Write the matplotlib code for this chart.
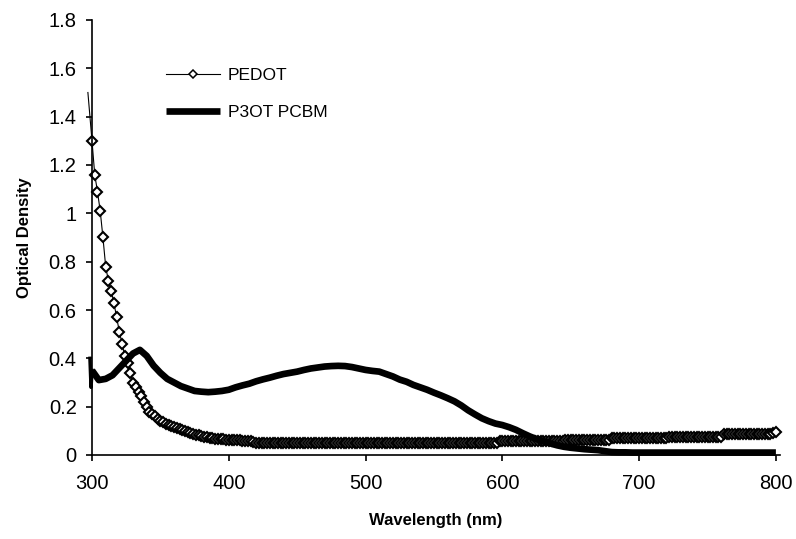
import numpy as np
import matplotlib
matplotlib.use('Agg')
import matplotlib.pyplot as plt

plt.rcParams['font.family'] = ['Liberation Sans', 'DejaVu Sans']

# PEDOT absorbance, sampled every 2 nm from 300 to 800 nm
pedot_nm = np.arange(300, 801, 2)
pedot_od = [
    1.30, 1.16, 1.09, 1.01, 0.90, 0.78, 0.72, 0.68, 0.63, 0.57,
    0.51, 0.46, 0.41, 0.38, 0.34, 0.30, 0.28, 0.26, 0.245, 0.22,
    0.20, 0.18, 0.17, 0.16, 0.15, 0.142, 0.136, 0.13, 0.125, 0.12,
    0.115, 0.11, 0.106, 0.102, 0.098, 0.094, 0.09, 0.087, 0.084, 0.081,
    0.078, 0.076, 0.074, 0.072, 0.07, 0.068, 0.067, 0.066, 0.065, 0.064,
    0.063, 0.062, 0.062, 0.061, 0.061, 0.06, 0.06, 0.06, 0.06, 0.055,
    0.05, 0.05, 0.05, 0.05, 0.05, 0.05, 0.05, 0.05, 0.05, 0.05,
    0.05, 0.05, 0.05, 0.05, 0.05, 0.05, 0.05, 0.05, 0.05, 0.05,
    0.05, 0.05, 0.05, 0.05, 0.05, 0.05, 0.05, 0.05, 0.05, 0.05,
    0.05, 0.05, 0.05, 0.05, 0.05, 0.05, 0.05, 0.05, 0.05, 0.05,
    0.05, 0.05, 0.05, 0.05, 0.05, 0.05, 0.05, 0.05, 0.05, 0.05,
    0.05, 0.05, 0.05, 0.05, 0.05, 0.05, 0.05, 0.05, 0.05, 0.05,
    0.05, 0.05, 0.05, 0.05, 0.05, 0.05, 0.05, 0.05, 0.05, 0.05,
    0.05, 0.05, 0.05, 0.05, 0.05, 0.05, 0.05, 0.05, 0.05, 0.05,
    0.05, 0.05, 0.05, 0.05, 0.05, 0.05, 0.05, 0.05, 0.05,
    0.057, 0.057, 0.057, 0.057, 0.057, 0.057, 0.057, 0.057, 0.057, 0.057,
    0.057, 0.057, 0.057, 0.057, 0.057, 0.057, 0.057, 0.057, 0.057, 0.057,
    0.057, 0.057, 0.057, 0.057,
    0.062, 0.062, 0.062, 0.062, 0.062, 0.062, 0.062, 0.062, 0.062, 0.062,
    0.062, 0.062, 0.062, 0.062, 0.062, 0.062, 0.062,
    0.069, 0.069, 0.069, 0.069, 0.069, 0.069, 0.069, 0.069, 0.069, 0.069,
    0.069, 0.069, 0.069, 0.069, 0.069, 0.069, 0.069, 0.069, 0.069, 0.069,
    0.069,
    0.076, 0.076, 0.076, 0.076, 0.076, 0.076, 0.076, 0.076, 0.076, 0.076,
    0.076, 0.076, 0.076, 0.076, 0.076, 0.076, 0.076, 0.076, 0.076, 0.076,
    0.085, 0.085, 0.085, 0.085, 0.085, 0.085, 0.085, 0.085, 0.085, 0.085,
    0.085, 0.085, 0.085, 0.085, 0.085, 0.085, 0.085, 0.085,
    0.09, 0.095,
]
# spike just before 300 nm
pedot_lead_nm = [297, 298.5, 300]
pedot_lead_od = [1.50, 1.40, 1.30]

# P3OT PCBM absorbance, every 5 nm
p3ot_nm = np.arange(300, 801, 5)
p3ot_od = [
    0.35, 0.31, 0.315, 0.33, 0.36, 0.39, 0.42, 0.435, 0.41, 0.37,
    0.34, 0.315, 0.30, 0.285, 0.275, 0.265, 0.262, 0.26, 0.262, 0.265,
    0.27, 0.28, 0.288, 0.295, 0.305, 0.313, 0.32, 0.328, 0.335, 0.34,
    0.345, 0.352, 0.358, 0.362, 0.366, 0.368, 0.369, 0.368, 0.364, 0.358,
    0.352, 0.348, 0.345, 0.335, 0.325, 0.312, 0.303, 0.29, 0.28, 0.27,
    0.258, 0.247, 0.235, 0.222, 0.205, 0.185, 0.168, 0.152, 0.14, 0.13,
    0.124, 0.115, 0.104, 0.09, 0.077, 0.066, 0.057, 0.048, 0.04, 0.034,
    0.03, 0.027, 0.024, 0.022, 0.02, 0.016, 0.012, 0.011, 0.011, 0.01,
    0.01, 0.01, 0.01, 0.01, 0.01, 0.01, 0.01, 0.01, 0.01, 0.01,
    0.01, 0.01, 0.01, 0.01, 0.01, 0.01, 0.01, 0.01, 0.01, 0.01,
    0.01,
]
p3ot_lead_nm = [298.5, 299.3, 300]
p3ot_lead_od = [0.40, 0.28, 0.35]

x_ticks = [300, 400, 500, 600, 700, 800]
y_ticks = [0, 0.2, 0.4, 0.6, 0.8, 1, 1.2, 1.4, 1.6, 1.8]
y_ticklabels = ['0', '0.2', '0.4', '0.6', '0.8', '1', '1.2', '1.4', '1.6', '1.8']

fig = plt.figure(figsize=(7.96, 5.39), dpi=100)
ax = fig.add_axes([92 / 796, 1 - 455 / 539, 688 / 796, 435 / 539])

ax.plot(pedot_lead_nm, pedot_lead_od, color='black', lw=0.8, clip_on=False)
ax.plot(pedot_nm, pedot_od, color='black', lw=0.8, marker='D', markersize=5.0,
        markerfacecolor='white', markeredgecolor='black', markeredgewidth=1.5,
        clip_on=False, label='PEDOT')
ax.plot(p3ot_lead_nm, p3ot_lead_od, color='black', lw=2.5, clip_on=False)
ax.plot(p3ot_nm, p3ot_od, color='black', lw=4.8, solid_capstyle='butt',
        clip_on=False, label='P3OT PCBM')

ax.set_xlim(300, 803)
ax.set_ylim(0, 1.8)
ax.set_xticks(x_ticks)
ax.set_yticks(y_ticks)
ax.set_yticklabels(y_ticklabels)
ax.spines['top'].set_visible(False)
ax.spines['right'].set_visible(False)
ax.spines['left'].set_linewidth(1.2)
ax.spines['bottom'].set_linewidth(1.2)
ax.tick_params(direction='out', length=4, width=1.2, labelsize=14.5)
ax.tick_params(axis='x', pad=10)
ax.tick_params(axis='y', pad=7)

ax.set_xlabel('Wavelength (nm)', fontsize=12, fontweight='bold', va='center')
ax.set_ylabel('Optical Density', fontsize=12, fontweight='bold', va='center')
ax.xaxis.set_label_coords(0.5, (455 - 520) / 435)
ax.yaxis.set_label_coords((24 - 92) / 688, 0.5)

leg = ax.legend(loc='upper left', bbox_to_anchor=(166 / 796, 1 - 68 / 539),
                bbox_transform=fig.transFigure, frameon=False, fontsize=12.5,
                handlelength=3.1, handletextpad=0.45, labelspacing=1.25,
                borderpad=0, borderaxespad=0)
for h in leg.legend_handles:
    h.set_markeredgewidth(1.1)
    h.set_markersize(4.5)

fig.savefig('out.png', dpi=100)
